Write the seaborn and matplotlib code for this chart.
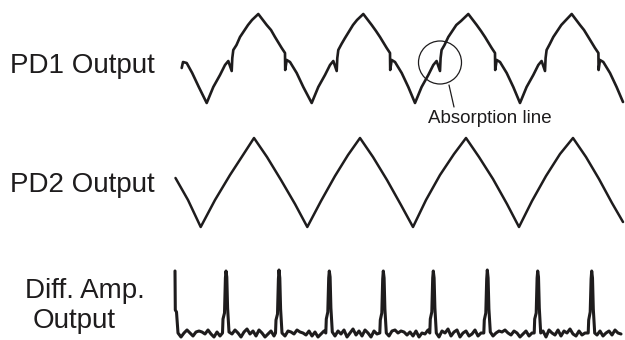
"""
Scope traces: PD1 / PD2 photodiode outputs and the differential amplifier output.
Values were read off the original figure by eye (time in us, signals in arb. units).
"""
import seaborn as sns
import matplotlib.pyplot as plt
from matplotlib.patches import Circle

INK = '#1e1c1d'

# PD1 output - triangle sweep with the absorption notches on each flank
pd1_t = [6.7, 8, 11.7, 17.2, 23.8,
         31.7, 38.3, 45, 50, 53.3, 56.7, 57.3, 58.3, 61.5, 65, 73, 77, 83.3,
         91.7, 96, 100, 106.7, 110, 110.2, 111.7, 115, 121.7, 128.3,
         136.7, 143.3, 150, 155, 158.3, 161.7, 162.3, 163.3, 166.5, 170, 178, 182, 188.3,
         196.7, 201, 205, 211.7, 215, 215.2, 216.7, 220, 226.7, 233.3,
         240, 246.6, 253.3, 258.3, 261.6, 265, 265.6, 266.6, 269.5, 273.3, 281.3, 286, 293.3,
         301.7, 306, 310, 316.7, 320, 320.2, 321.7, 325, 331.7, 338.3,
         345, 351.6, 358.3, 363.3, 366.6, 370, 370.6, 371.6, 374.8, 378.3, 386.3, 391, 396.7,
         405, 409, 413.3, 420, 423.4, 423.6, 425, 428.3, 435, 441.6, 448]
pd1_v = [38, 44, 43, 33, 19,
         3, 19, 31, 41, 45, 35, 48, 56, 61, 69, 81, 86, 92,
         81, 76, 69, 58, 53, 36, 46, 44, 33, 19,
         3, 19, 31, 41, 45, 35, 48, 56, 62, 68, 81, 86, 92,
         81, 75, 69, 58, 53, 36, 46, 44, 33, 19,
         3, 19, 31, 41, 45, 35, 48, 56, 61, 69, 81, 85, 92,
         81, 75, 69, 58, 53, 36, 46, 44, 33, 19,
         3, 19, 31, 41, 45, 35, 48, 56, 62, 69, 81, 86, 92,
         81, 76, 69, 58, 53, 36, 46, 44, 33, 19, 4]

# PD2 output - clean triangle sweep
pd2_t = [0.5, 13, 25.7, 40, 55, 68, 79, 92, 106, 120, 132.3,
         146, 160, 173, 185, 198, 212, 226, 238,
         251, 265, 279, 291, 304, 318, 332, 344,
         357, 371, 385, 398, 411, 424, 437, 448]
pd2_v = [52, 30, 3, 30, 55, 75, 92, 73, 50, 26, 3,
         29, 54, 75, 92, 73, 50, 25, 3,
         30, 55, 76, 92, 73, 51, 26, 3,
         29, 54, 76, 92, 73, 51, 27, 8]

# differential amplifier output - spikes at every turning point, noisy baseline
diff_t = [0, 0.3, 1.5, 3,
          6, 9, 12, 15, 18, 21, 24, 27, 30, 33, 36, 39, 42, 45,
          47.5, 48, 49.5, 50.4, 51, 51.8, 52.6, 54,
          57, 60, 63, 66, 69, 72, 75, 78, 81, 84, 87, 90, 93, 96, 99,
          100.5, 101, 102.5, 103.4, 104, 104.8, 105.6, 107,
          110, 113, 116, 119, 122, 125, 128, 131, 134, 137, 140, 143, 146, 149,
          150.8, 151.3, 152.8, 153.7, 154.3, 155.1, 155.9, 157.3,
          160, 163, 166, 169, 172, 175, 178, 181, 184, 187, 190, 193, 196, 199, 202,
          204.8, 205.3, 206.8, 207.7, 208.3, 209.1, 209.9, 211.3,
          214, 217, 220, 223, 226, 229, 232, 235, 238, 241, 244, 247, 250, 253,
          254.8, 255.3, 256.8, 257.7, 258.3, 259.1, 259.9, 261.3,
          264, 267, 270, 273, 276, 279, 282, 285, 288, 291, 294, 297, 300, 303, 306,
          308.8, 309.3, 310.8, 311.7, 312.3, 313.1, 313.9, 315.3,
          318, 321, 324, 327, 330, 333, 336, 339, 342, 345, 348, 351, 354, 357,
          359.2, 359.7, 361.2, 362.1, 362.7, 363.5, 364.3, 365.7,
          368, 371, 374, 377, 380, 383, 386, 389, 392, 395, 398, 401, 404, 407, 410,
          413.2, 413.7, 415.2, 416.1, 416.7, 417.5, 418.3, 419.7,
          422, 425, 428, 431, 434, 437, 440, 443, 446]
diff_v = [67, 28, 26, 5,
          1, 5, 8, 5, 2, 6, 7, 6, 4, 8, 4, 1, 6, 2,
          5, 19, 25, 60, 67, 61, 30, 6,
          4, 8, 5, 1, 6, 9, 4, 7, 2, 8, 5, 1, 4, 7, 2,
          5, 18, 24, 59, 68, 60, 29, 5,
          2, 7, 6, 4, 8, 6, 5, 3, 7, 2, 6, 1, 4, 7,
          5, 19, 26, 60, 67, 61, 30, 6,
          2, 7, 4, 8, 1, 5, 9, 3, 7, 2, 8, 5, 1, 7, 4,
          5, 18, 25, 59, 67, 60, 29, 5,
          2, 7, 8, 5, 7, 6, 3, 6, 2, 7, 1, 5, 4, 8,
          5, 19, 26, 60, 67, 60, 30, 5,
          1, 7, 5, 9, 2, 6, 8, 1, 5, 7, 2, 4, 8, 2, 5,
          5, 18, 25, 59, 68, 60, 29, 6,
          2, 5, 7, 6, 8, 5, 3, 7, 5, 1, 4, 7, 2, 5,
          5, 19, 25, 60, 67, 61, 30, 5,
          7, 1, 8, 5, 3, 8, 2, 7, 5, 9, 4, 2, 7, 3, 5,
          5, 18, 26, 59, 67, 60, 29, 5,
          3, 7, 2, 5, 7, 3, 8, 5, 4]

row_labels = ['PD1 Output', 'PD2 Output', 'Diff. Amp.', 'Output']
note_text = 'Absorption line'

sns.set_theme(style='white')
plt.rcParams['font.family'] = ['Liberation Sans', 'DejaVu Sans']

fig = plt.figure(figsize=(6.25, 3.4), dpi=100)
W, H = 625, 340

def band(top, bottom):
    # axes spanning the trace column between two pixel rows
    return fig.add_axes([170 / W, 1 - bottom / H, 455 / W, (bottom - top) / H])

ax1 = band(0, 110)
ax2 = band(130, 232)
ax3 = band(260, 340)

sns.lineplot(x=pd1_t, y=pd1_v, ax=ax1, sort=False, estimator=None, color=INK, lw=1.9)
sns.lineplot(x=pd2_t, y=pd2_v, ax=ax2, sort=False, estimator=None, color=INK, lw=1.8)
sns.lineplot(x=diff_t, y=diff_v, ax=ax3, sort=False, estimator=None, color=INK, lw=2.2)

ax1.set_ylim(-4, 106)
ax2.set_ylim(-2, 100)
ax3.set_ylim(-2, 78)
for ax in (ax1, ax2, ax3):
    ax.set_xlim(-5, 450)
    ax.set_axis_off()

# circle around one absorption notch, with a pointer to the note
ax1.add_patch(Circle((265, 43.5), 21.5, fill=False, ec=INK, lw=0.9, clip_on=False))
ax1.plot([274, 279], [21, -1], color=INK, lw=0.9, clip_on=False)
ax1.text(315, -17, note_text, ha='center', va='baseline', fontsize=13.5, color=INK)

# row labels on the left
fig.text(10 / W, 1 - 72.7 / H, row_labels[0], fontsize=20, color=INK, va='baseline')
fig.text(10 / W, 1 - 191.7 / H, row_labels[1], fontsize=20, color=INK, va='baseline')
fig.text(25 / W, 1 - 298 / H, row_labels[2], fontsize=20, color=INK, va='baseline')
fig.text(33 / W, 1 - 328 / H, row_labels[3], fontsize=20, color=INK, va='baseline')

fig.savefig('out.png', dpi=100)
